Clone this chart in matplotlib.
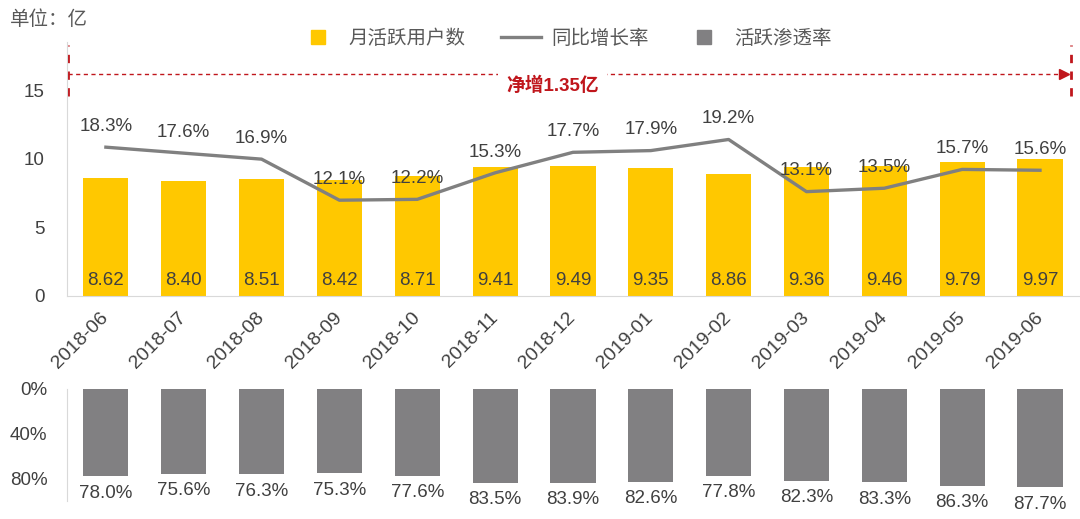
import matplotlib
matplotlib.use("Agg")
from matplotlib import pyplot as plt
from matplotlib.lines import Line2D
import numpy as np

plt.rcParams['font.family'] = ['Liberation Sans', 'Noto Sans CJK SC', 'DejaVu Sans']

months = ['2018-06', '2018-07', '2018-08', '2018-09', '2018-10', '2018-11', '2018-12',
          '2019-01', '2019-02', '2019-03', '2019-04', '2019-05', '2019-06']
mau = [8.62, 8.40, 8.51, 8.42, 8.71, 9.41, 9.49, 9.35, 8.86, 9.36, 9.46, 9.79, 9.97]
yoy = [18.3, 17.6, 16.9, 12.1, 12.2, 15.3, 17.7, 17.9, 19.2, 13.1, 13.5, 15.7, 15.6]
penetration = [78.0, 75.6, 76.3, 75.3, 77.6, 83.5, 83.9, 82.6, 77.8, 82.3, 83.3, 86.3, 87.7]

YELLOW = '#FFC800'
GRAY_BAR = '#818082'
GRAY_LINE = '#808080'
RED = '#C0161C'
TXT = '#404040'
SPINE = '#D9D9D9'

x = np.arange(len(months))
bw = 0.58

fig = plt.figure(figsize=(10.8, 5.19), dpi=100)
ax = fig.add_axes([0.062, 0.4297, 0.937, 0.4894])
ax2 = ax.twinx()
axb = fig.add_axes([0.062, 0.0347, 0.937, 0.2158])

# top panel: monthly active users
ax.bar(x, mau, width=bw, color=YELLOW, zorder=2)
for xi, v in zip(x, mau):
    ax.text(xi, 1.1, f'{v:.2f}', ha='center', va='center', fontsize=13.5, color=TXT, zorder=4)
ax.set_xlim(-0.5, len(months) - 0.5)
ax.set_ylim(0, 18.5)
ax.set_yticks([0, 5, 10, 15])
ax.set_xticks(x)
ax.set_xticklabels(months, rotation=45, ha='right', va='center', rotation_mode='anchor')
ax.tick_params(axis='both', length=0, labelsize=13.5, labelcolor=TXT)
ax.tick_params(axis='x', pad=14, labelsize=14)
ax.tick_params(axis='y', pad=16)
for s in ['top', 'right']:
    ax.spines[s].set_visible(False)
ax.spines['left'].set_color(SPINE)
ax.spines['bottom'].set_color(SPINE)

# growth rate line on hidden secondary axis
ax2.plot(x, yoy, color=GRAY_LINE, lw=2.4, zorder=3)
for xi, v in zip(x, yoy):
    ax2.annotate(f'{v:.1f}%', (xi, v), xytext=(0, 15), textcoords='offset points',
                 ha='center', va='center', fontsize=13.5, color=TXT)
ax2.set_ylim(0.9, 30.6)
ax2.axis('off')

# bottom panel: penetration rate
axb.bar(x, penetration, width=bw, color=GRAY_BAR)
for xi, v in zip(x, penetration):
    axb.annotate(f'{v:.1f}%', (xi, v), xytext=(0, -6), textcoords='offset points',
                 ha='center', va='top', fontsize=13.5, color=TXT, annotation_clip=False)
axb.set_xlim(-0.5, len(months) - 0.5)
axb.set_ylim(100, 0)
axb.set_yticks([0, 40, 80])
axb.set_yticklabels(['0%', '40%', '80%'])
axb.set_xticks([])
axb.tick_params(axis='y', length=0, labelsize=13.5, labelcolor=TXT, pad=14)
for s in ['top', 'right', 'bottom']:
    axb.spines[s].set_visible(False)
axb.spines['left'].set_color(SPINE)

# net increase annotation
tr = ax.get_yaxis_transform()
ax.plot([0.001, 0.001], [14.6, 18.3], transform=tr, color=RED, lw=2, ls=(0, (3, 3)), clip_on=False)
ax.plot([0.992, 0.992], [14.6, 18.3], transform=tr, color=RED, lw=2, ls=(0, (3, 3)), clip_on=False)
ax.plot([0.001, 0.985], [16.17, 16.17], transform=tr, color=RED, lw=1, ls=(0, (3, 2.5)), clip_on=False)
ax.plot([0.985], [16.17], transform=tr, marker='>', color=RED, ms=7, clip_on=False)
ax.text(0.48, 15.3, '净增1.35亿', transform=tr, ha='center', va='center', fontsize=13.5,
        fontweight='bold', color=RED, zorder=5,
        bbox=dict(boxstyle='square,pad=0.45', fc='white', ec='none'))

fig.text(0.009, 0.962, '单位：亿', fontsize=14, color='#595959', va='center')

handles = [Line2D([], [], marker='s', ls='none', color=YELLOW, ms=10),
           Line2D([], [], color=GRAY_LINE, lw=2.4),
           Line2D([], [], marker='s', ls='none', color=GRAY_BAR, ms=10)]
fig.legend(handles, ['月活跃用户数', '同比增长率', '活跃渗透率'], loc='center',
           bbox_to_anchor=(0.523, 0.925), ncol=3, frameon=False, fontsize=14,
           labelcolor='#595959', handlelength=2.1, columnspacing=1.8, handletextpad=0.5)

fig.savefig('out.png', dpi=100, facecolor='white')
